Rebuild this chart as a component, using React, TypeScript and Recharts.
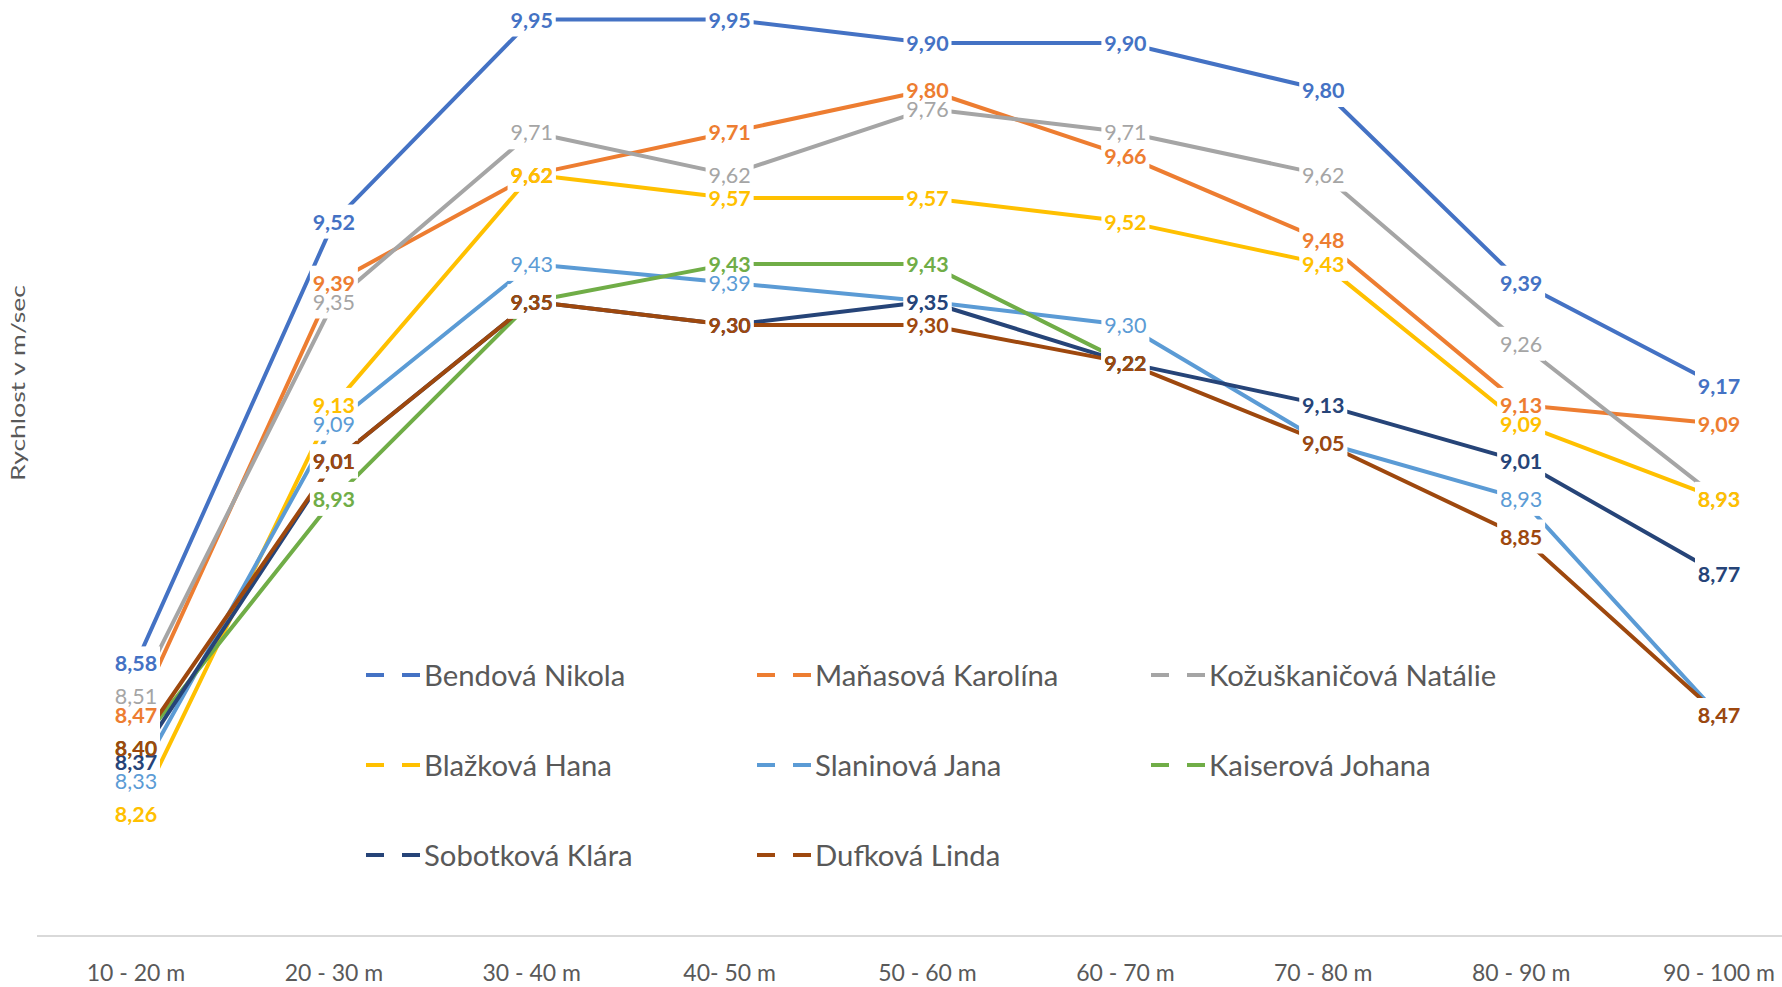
import React from 'react';
import { LineChart, Line, XAxis, YAxis, Legend, LabelList } from 'recharts';

const categories = ['10 - 20 m', '20 - 30 m', '30 - 40 m', '40- 50 m', '50 - 60 m', '60 - 70 m', '70 - 80 m', '80 - 90 m', '90 - 100 m'];

const seriesNames = ['Bendová Nikola', 'Maňasová Karolína', 'Kožuškaničová Natálie', 'Blažková Hana', 'Slaninová Jana', 'Kaiserová Johana', 'Sobotková Klára', 'Dufková Linda'];

const bendova = [8.58, 9.52, 9.95, 9.95, 9.9, 9.9, 9.8, 9.39, 9.17];
const manasova = [8.47, 9.39, 9.62, 9.71, 9.8, 9.66, 9.48, 9.13, 9.09];
const kozuskanicova = [8.51, 9.35, 9.71, 9.62, 9.76, 9.71, 9.62, 9.26, 8.93];
const blazkova = [8.26, 9.13, 9.62, 9.57, 9.57, 9.52, 9.43, 9.09, 8.93];
const slaninova = [8.33, 9.09, 9.43, 9.39, 9.35, 9.3, 9.05, 8.93, 8.47];
const kaiserova = [8.4, 8.93, 9.35, 9.43, 9.43, 9.22, null, null, null];
const sobotkova = [8.37, 9.01, 9.35, 9.3, 9.35, 9.22, 9.13, 9.01, 8.77];
const dufkova = [8.4, 9.01, 9.35, 9.3, 9.3, 9.22, 9.05, 8.85, 8.47];

const seriesValues = [bendova, manasova, kozuskanicova, blazkova, slaninova, kaiserova, sobotkova, dufkova];
const seriesColors = ['#4472C4', '#ED7D31', '#A5A5A5', '#FFC000', '#5B9BD5', '#70AD47', '#264478', '#9E480E'];
const labelWeights = [700, 700, 400, 700, 400, 700, 700, 700];

const yTitle = 'Rychlost v m/sec';

const data = categories.map((cat, i) => {
  const row: any = { cat };
  seriesValues.forEach((vals, s) => {
    row['s' + s] = vals[i];
  });
  return row;
});

const FONT = 'Lato, "Open Sans", sans-serif';
const CHART_W = 1818;
const CHART_H = 995;
const SHIFT = 4;

const fmt = (v: number) => v.toFixed(2).replace('.', ',');

const getXY = (props: any) => {
  const x = props.x != null ? props.x : props.viewBox ? props.viewBox.x : undefined;
  const y = props.y != null ? props.y : props.viewBox ? props.viewBox.y : undefined;
  return { x, y };
};

const BoxLabel = (props: any) => {
  const { x, y } = getXY(props);
  if (props.value == null || x == null || y == null || isNaN(y)) return null;
  return <rect x={x - 24} y={y - 17} width={48} height={34} fill="#ffffff" />;
};

const makeTextLabel = (color: string, weight: number) => (props: any) => {
  const { x, y } = getXY(props);
  if (props.value == null || x == null || y == null || isNaN(y)) return null;
  return (
    <text
      x={x}
      y={y}
      textAnchor="middle"
      dominantBaseline="central"
      fill={color}
      fontSize={21.5}
      fontWeight={weight}
      fontFamily={FONT}
    >
      {fmt(Number(props.value))}
    </text>
  );
};

const CatTick = (props: any) => {
  const { x, payload } = props;
  return (
    <text x={x} y={976} textAnchor="middle" dominantBaseline="central" fill="#595959" fontSize={23} fontFamily={FONT}>
      {payload.value}
    </text>
  );
};

const legendCols = [366, 757, 1151];
const legendRows = [675 + SHIFT, 765 + SHIFT, 855 + SHIFT];

const renderLegend = (props: any) => {
  const payload: any[] = props.payload || [];
  return (
    <div style={{ position: 'relative', width: CHART_W, height: CHART_H }}>
      {seriesNames.map((name, i) => {
        const item = payload.find((p) => p.value === name);
        const color = item ? item.color : seriesColors[i];
        const col = i % 3;
        const row = Math.floor(i / 3);
        return (
          <div
            key={name}
            style={{
              position: 'absolute',
              left: legendCols[col],
              top: legendRows[row] - 20,
              height: 40,
              display: 'flex',
              alignItems: 'center',
              whiteSpace: 'nowrap',
            }}
          >
            <svg width={58} height={8} style={{ display: 'block' }}>
              <line x1={0} x2={18} y1={4} y2={4} stroke={color} strokeWidth={4} />
              <line x1={36} x2={54} y1={4} y2={4} stroke={color} strokeWidth={4} />
            </svg>
            <span style={{ fontFamily: FONT, fontSize: 29.3, color: '#595959', lineHeight: '40px' }}>{name}</span>
          </div>
        );
      })}
    </div>
  );
};

export default function App() {
  return (
    <div style={{ position: 'absolute', left: 0, top: 0, width: 1782, height: 987, overflow: 'hidden', background: '#fff' }}>
      <div style={{ position: 'absolute', left: 0, top: -SHIFT }}>
        <LineChart width={CHART_W} height={CHART_H} data={data} margin={{ top: 0, right: 0, bottom: 0, left: 37 }}>
          <XAxis
            dataKey="cat"
            interval={0}
            tickLine={false}
            padding={{ left: 99, right: 99 }}
            axisLine={{ stroke: '#D9D9D9', strokeWidth: 2 }}
            tick={<CatTick />}
            height={CHART_H - 940}
          />
          <YAxis hide domain={[8, 10]} allowDataOverflow />
          {seriesNames.map((name, s) => (
            <Line
              key={'line' + s}
              type="linear"
              dataKey={'s' + s}
              name={name}
              stroke={seriesColors[s]}
              strokeWidth={4}
              strokeLinejoin="round"
              dot={false}
              activeDot={false}
              isAnimationActive={false}
            />
          ))}
          {seriesNames.map((name, s) => (
            <Line
              key={'box' + s}
              type="linear"
              dataKey={'s' + s}
              name={name + ' box'}
              stroke="none"
              strokeWidth={0}
              dot={false}
              activeDot={false}
              legendType="none"
              isAnimationActive={false}
            >
              <LabelList dataKey={'s' + s} content={BoxLabel} />
            </Line>
          ))}
          {seriesNames.map((name, s) => (
            <Line
              key={'txt' + s}
              type="linear"
              dataKey={'s' + s}
              name={name + ' text'}
              stroke="none"
              strokeWidth={0}
              dot={false}
              activeDot={false}
              legendType="none"
              isAnimationActive={false}
            >
              <LabelList dataKey={'s' + s} content={makeTextLabel(seriesColors[s], labelWeights[s])} />
            </Line>
          ))}
          <Legend
            layout="horizontal"
            verticalAlign="middle"
            align="center"
            wrapperStyle={{ left: 0, top: 0, width: CHART_W, height: CHART_H, pointerEvents: 'none' }}
            content={renderLegend}
          />
        </LineChart>
      </div>
      <svg width={60} height={987} style={{ position: 'absolute', left: 0, top: 0 }}>
        <text
          transform="translate(25,383) rotate(-90)"
          textAnchor="middle"
          fill="#595959"
          fontSize={19}
          fontFamily={FONT}
          textLength={196}
          lengthAdjust="spacingAndGlyphs"
        >
          {yTitle}
        </text>
      </svg>
    </div>
  );
}
